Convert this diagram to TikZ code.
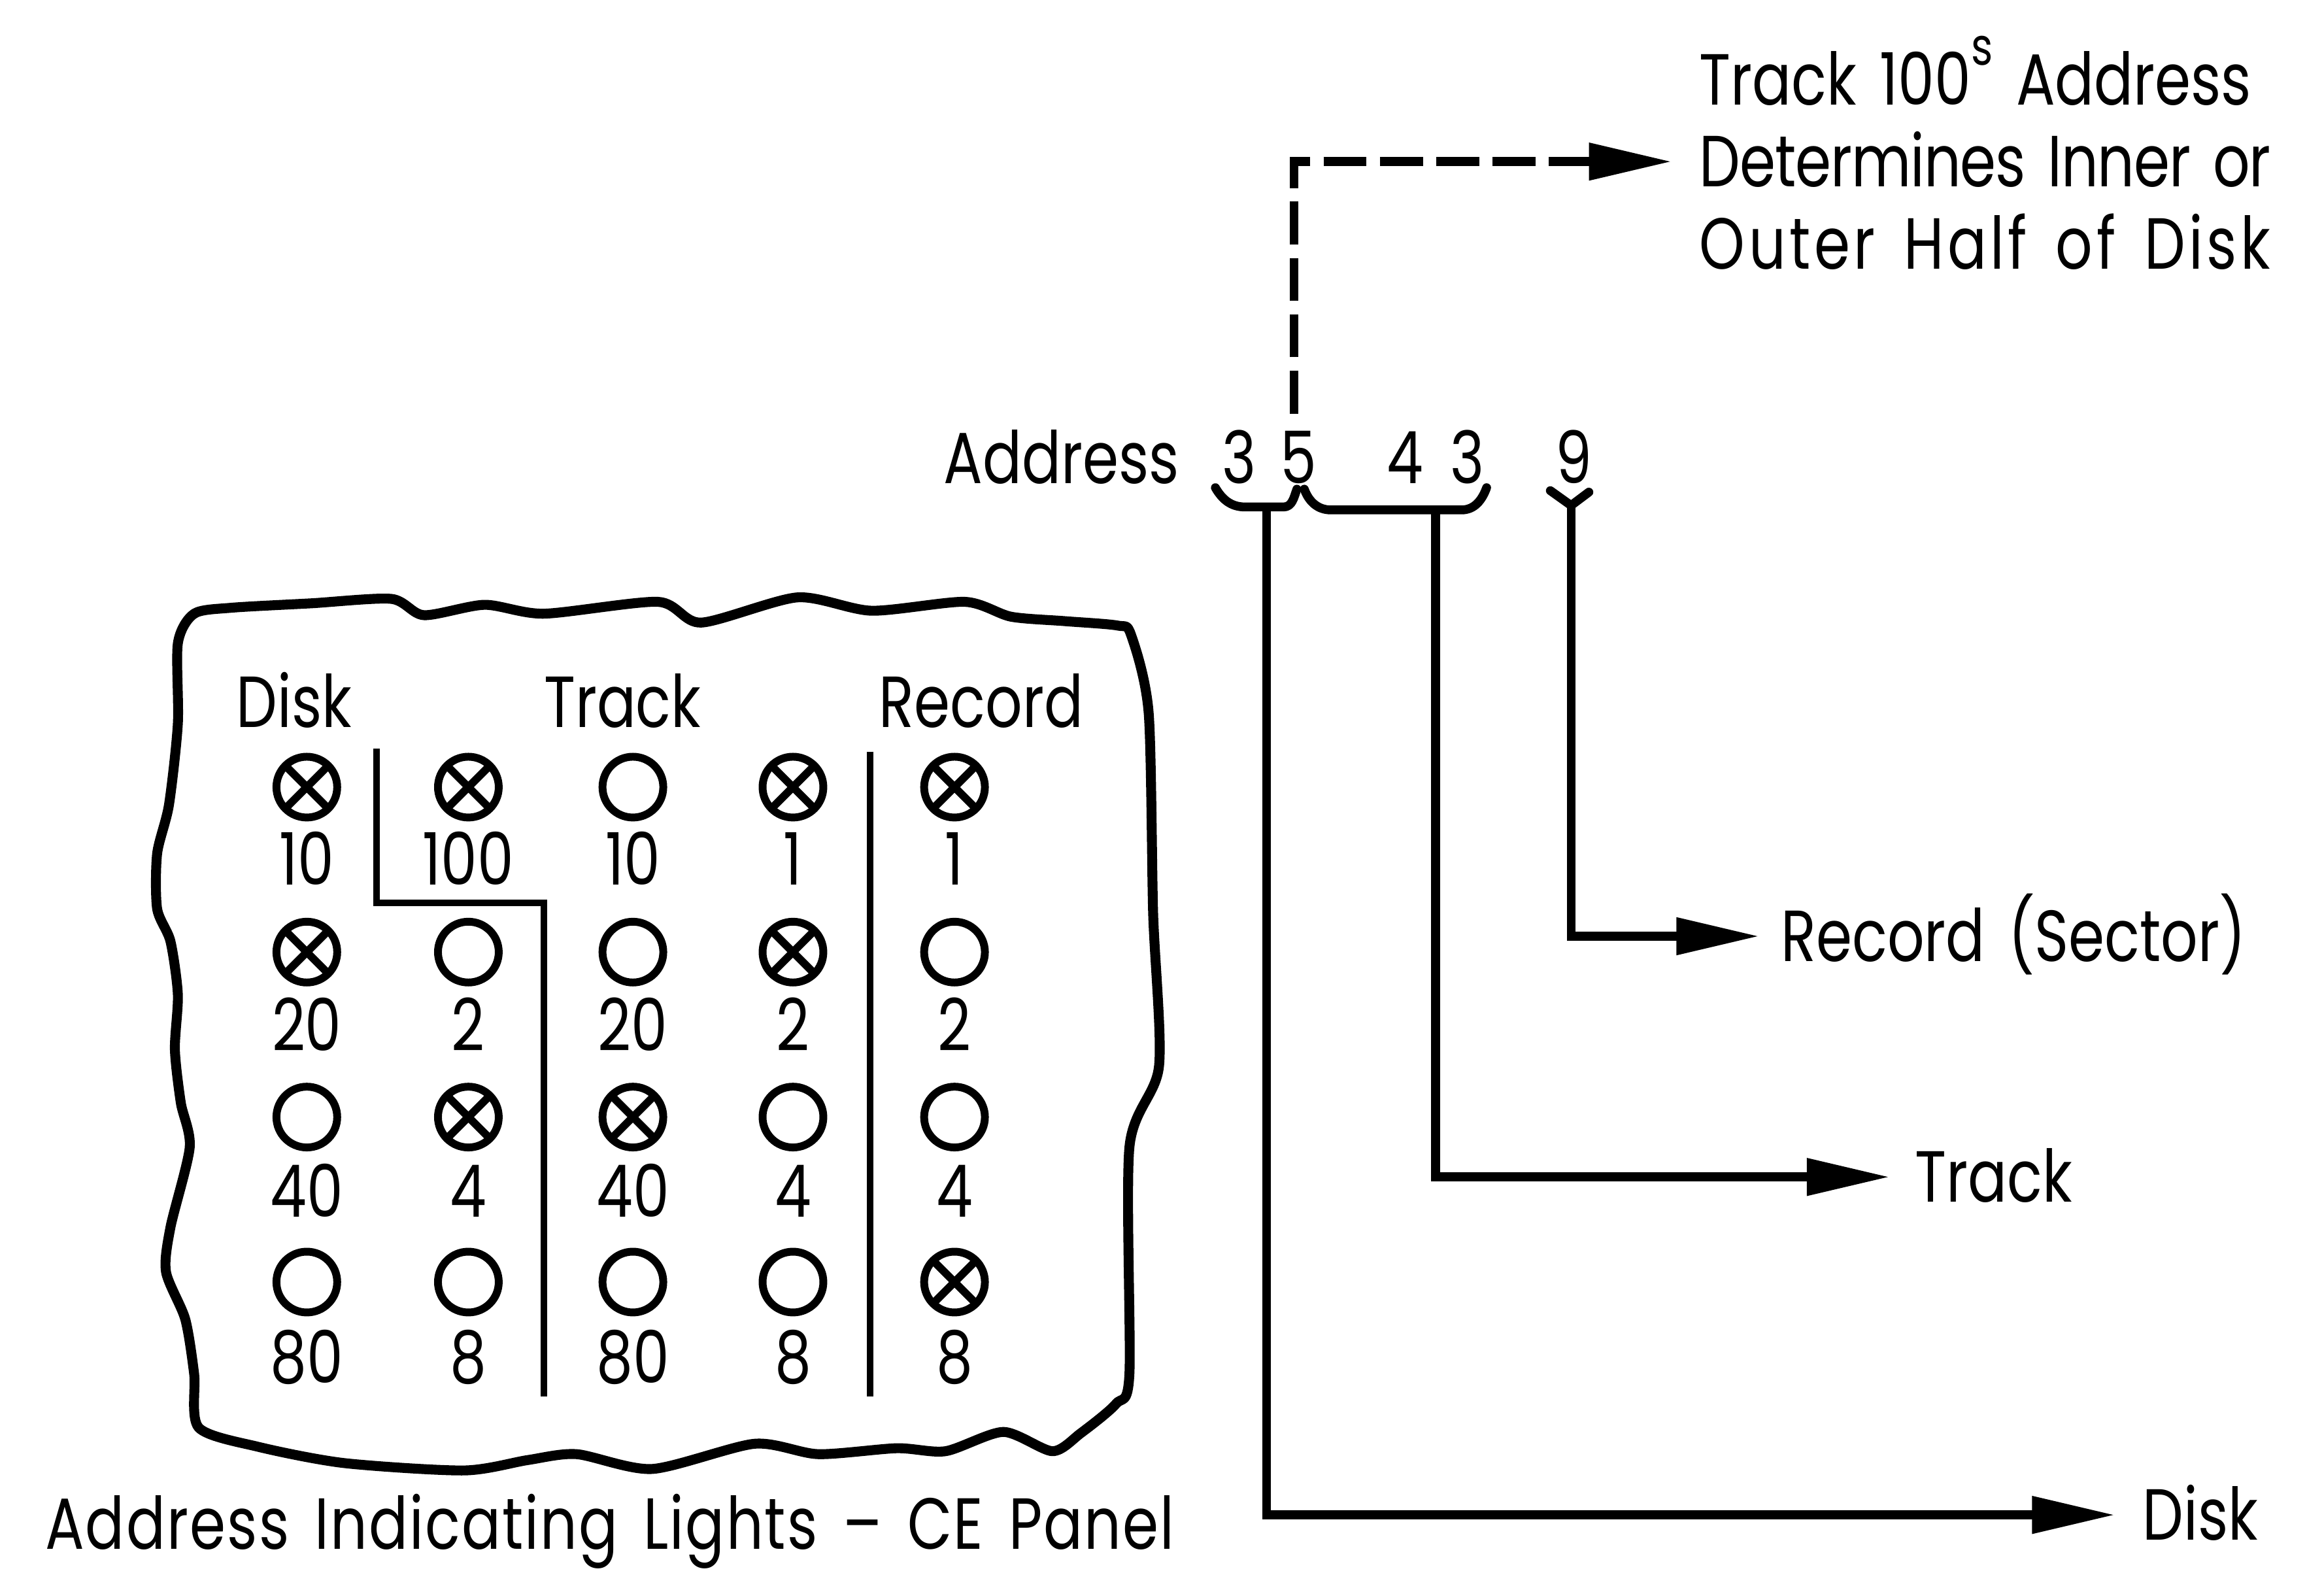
\documentclass[tikz,border=0pt]{standalone}
\usepackage{fontspec}
\setmainfont{Poppins}[FakeStretch=0.8, WordSpace=1.5]
\usetikzlibrary{arrows.meta}
\tikzset{
  txt/.style={inner sep=0pt, text height=0.34cm, text depth=0pt, font=\fontsize{13.9}{16}\selectfont},
  link/.style={line width=1.7pt, -{Triangle[length=0.56cm,width=0.24cm]}},
  dlink/.style={link, dash pattern=on 0.29cm off 0.09cm},
  brace/.style={line width=1.7pt, line cap=round, line join=round},
  divider/.style={line width=1.3pt},
  lamp0/.style={draw, circle, line width=1.5pt, minimum size=0.41cm, inner sep=0pt},
  lamp1/.style={lamp0, path picture={\draw[line width=1.5pt]
      (path picture bounding box.north west) -- (path picture bounding box.south east)
      (path picture bounding box.north east) -- (path picture bounding box.south west);}},
}
\begin{document}
\begin{tikzpicture}[x=1cm,y=-1cm]
\useasboundingbox (0,0) rectangle (15.68,10.61);
% panel outline
\draw[line width=1.9pt, line join=round] plot[smooth cycle, tension=0.45] coordinates {
  (1.31,4.14) (1.56,4.10) (2.10,4.07) (2.64,4.04) (2.86,4.15) (3.27,4.08) (3.67,4.14)
  (4.44,4.06) (4.73,4.20) (5.38,4.03) (5.88,4.12) (6.51,4.06) (6.82,4.16) (7.18,4.19)
  (7.54,4.22) (7.63,4.28) (7.75,4.81) (7.78,6.16) (7.82,7.19) (7.62,7.74) (7.62,9.27)
  (7.53,9.47) (7.29,9.67) (7.10,9.79) (6.77,9.66) (6.38,9.79) (6.05,9.77) (5.52,9.81)
  (5.09,9.74) (4.40,9.91) (3.89,9.81) (3.56,9.85) (3.13,9.92) (2.32,9.87) (1.74,9.76)
  (1.34,9.63) (1.31,9.27) (1.25,8.90) (1.12,8.58) (1.15,8.28) (1.28,7.74) (1.22,7.44)
  (1.18,7.08) (1.20,6.71) (1.15,6.35) (1.06,6.13) (1.06,5.76) (1.14,5.43) (1.20,4.88)
  (1.20,4.34)};
% panel headings and dividers
\node[txt] (hdisk) at (1.985,4.735) {Disk};
\node[txt] (htrack) at (4.20,4.735) {Track};
\node[txt] (hrecord) at (6.62,4.735) {Record};
\draw[divider] (2.54,5.05) |- (3.67,6.09) -- (3.67,9.42);
\draw[divider] (5.87,5.07) -- (5.87,9.42);
% lights, column by column: value/state
\foreach \cx/\cn/\cells in {2.07/1/{10/1,20/1,40/0,80/0}, 3.16/2/{100/1,2/0,4/1,8/0},
    4.27/3/{10/0,20/0,40/1,80/0}, 5.35/4/{1/1,2/1,4/0,8/0}, 6.44/5/{1/1,2/0,4/0,8/1}}
  \foreach \val/\st [count=\r] in \cells {
    \node[lamp\st] (l\cn\r) at (\cx,{5.31+1.113*(\r-1)}) {};
    \node[txt] (n\cn\r) at (\cx,{5.80+1.12*(\r-1)}) {\val};
  }
\node[txt] (caption) at (4.115,10.28) {\addfontfeature{LetterSpace=2}Address Indicating Lights -- CE Panel};
% address and its fields
\node[txt, anchor=west] (addr) at (6.36,3.09) {Address};
\node[txt] (d1) at (8.36,3.09) {3};
\node[txt] (d2) at (8.76,3.09) {5};
\node[txt] (d3) at (9.48,3.09) {4};
\node[txt] (d4) at (9.90,3.09) {3};
\node[txt] (d5) at (10.62,3.09) {9};
\coordinate (b1) at (8.545,3.42);
\coordinate (b2) at (9.686,3.44);
\coordinate (b3) at (10.60,3.41);
\draw[brace] (8.20,3.29) to[out=-60,in=180] (8.40,3.42) -- (8.66,3.42) to[out=0,in=-110] (8.75,3.30);
\draw[brace] (8.80,3.30) to[out=-70,in=180] (8.98,3.44) -- (9.86,3.44) to[out=0,in=-110] (10.03,3.29);
\draw[brace] (10.46,3.31) -- (b3) -- (10.72,3.32);
% labels
\node[txt, anchor=west] (note1) at (11.46,0.537) {Track 100\raisebox{0.27cm}{\fontsize{10}{10}\selectfont s} Address};
\node[txt, anchor=west] (note2) at (11.46,1.09) {\addfontfeature{LetterSpace=-1}Determines Inner or};
\node[txt, anchor=west] (note3) at (11.46,1.646) {\addfontfeature{LetterSpace=5}Outer Half of Disk};
\node[txt, anchor=west] (record) at (12.01,6.316) {Record (Sector)};
\node[txt, anchor=west] (track) at (12.915,7.94) {Track};
\node[txt, anchor=west] (disk) at (14.45,10.22) {Disk};
% connectors
\coordinate (up) at (8.73,2.79);
\draw[dlink] (up) |- ([xshift=-0.18cm]note2.west);
\draw[link] (b3) |- ([xshift=-0.14cm]record.west);
\draw[link] (b2) |- ([xshift=-0.165cm]track.west);
\draw[link] (b1) |- ([xshift=-0.18cm]disk.west);
\end{tikzpicture}
\end{document}
